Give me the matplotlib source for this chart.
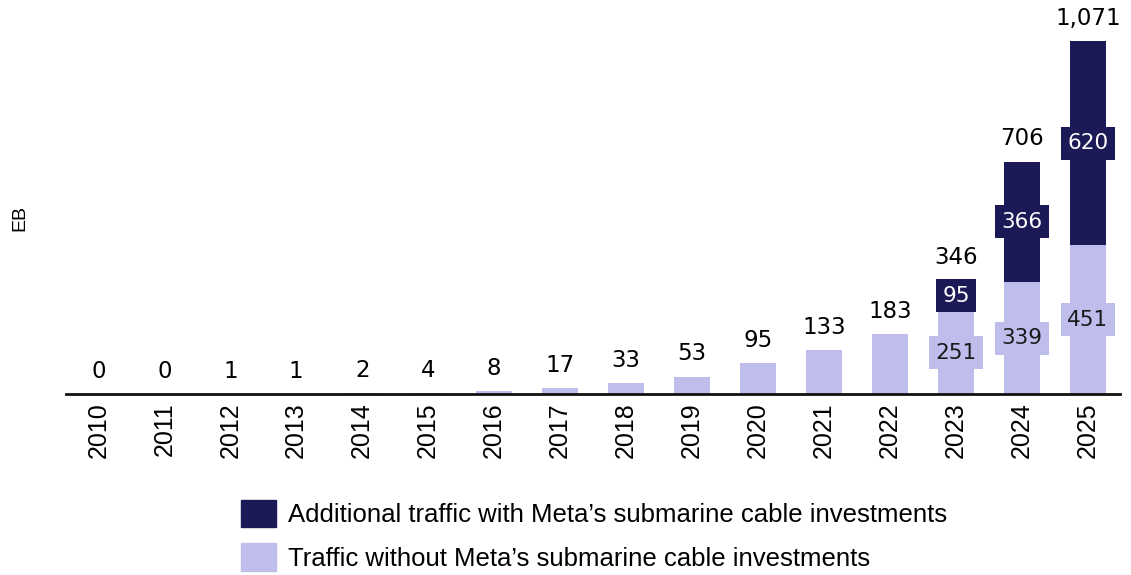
import matplotlib
matplotlib.use("Agg")
import matplotlib.pyplot as plt
from matplotlib.patches import Patch
import numpy as np

years = [str(y) for y in range(2010, 2026)]
base_traffic = [0, 0, 1, 1, 2, 4, 8, 17, 33, 53, 95, 133, 183, 251, 339, 451]
additional_traffic = [0, 0, 0, 0, 0, 0, 0, 0, 0, 0, 0, 0, 0, 95, 366, 620]
totals = [0, 0, 1, 1, 2, 4, 8, 17, 33, 53, 95, 133, 183, 346, 706, 1071]
legend_labels = ["Additional traffic with Meta\u2019s submarine cable investments",
                 "Traffic without Meta\u2019s submarine cable investments"]
y_label = "EB"

DARK = "#1c1957"
LIGHT = "#bfbdec"
sans = ["Liberation Sans", "DejaVu Sans"]
numfont = ["DejaVu Sans"]

fig = plt.figure(figsize=(11.31, 5.75), dpi=100)
ax = fig.add_axes([66/1131, 1-394/575, 1054/1131, 394/575])
x = np.arange(len(years))
w = 0.546
ax.bar(x, base_traffic, width=w, color=LIGHT, zorder=2)
ax.bar(x, additional_traffic, width=w, bottom=base_traffic, color=DARK, zorder=2)

ax.set_xlim(-0.49, 15.486)
ax.set_ylim(0, 1195)

for xi, t, b, a in zip(x, totals, base_traffic, additional_traffic):
    ax.annotate(f"{t:,}", (xi, b + a), xytext=(0, 8), textcoords="offset points",
                ha="center", va="bottom", fontsize=16.5, family=numfont,
                color="black", zorder=4)
    if a > 0:
        ax.text(xi, b / 2, f"{b}", ha="center", va="center", fontsize=15.5,
                family=numfont, color="#1a1a1a", zorder=3,
                bbox=dict(boxstyle="square,pad=0.3", fc=LIGHT, ec="none"))
        ax.text(xi, b + a / 2, f"{a}", ha="center", va="center", fontsize=15.5,
                family=numfont, color="white", zorder=3,
                bbox=dict(boxstyle="square,pad=0.3", fc=DARK, ec="none"))

ax.set_xticks(x)
ax.set_xticklabels(years, rotation=90, fontsize=18, family=sans)
ax.tick_params(axis="x", length=0, pad=6)
ax.set_yticks([])
for s in ["top", "right", "left"]:
    ax.spines[s].set_visible(False)
ax.spines["bottom"].set_linewidth(2)
ax.spines["bottom"].set_color("#111111")

fig.text(20/1131, 1-218/575, y_label, rotation=90, ha="center", va="center",
         fontsize=14, family=sans)

handles = [Patch(color=DARK), Patch(color=LIGHT)]
leg = fig.legend(handles, legend_labels, loc="upper left",
                 bbox_to_anchor=(241/1131, 1-500/575), frameon=False,
                 prop={"family": sans, "size": 18.5},
                 handlelength=1.36, handleheight=1.26, handletextpad=0.45,
                 labelspacing=0.62, borderpad=0, borderaxespad=0)

fig.savefig("out.png", dpi=100)
